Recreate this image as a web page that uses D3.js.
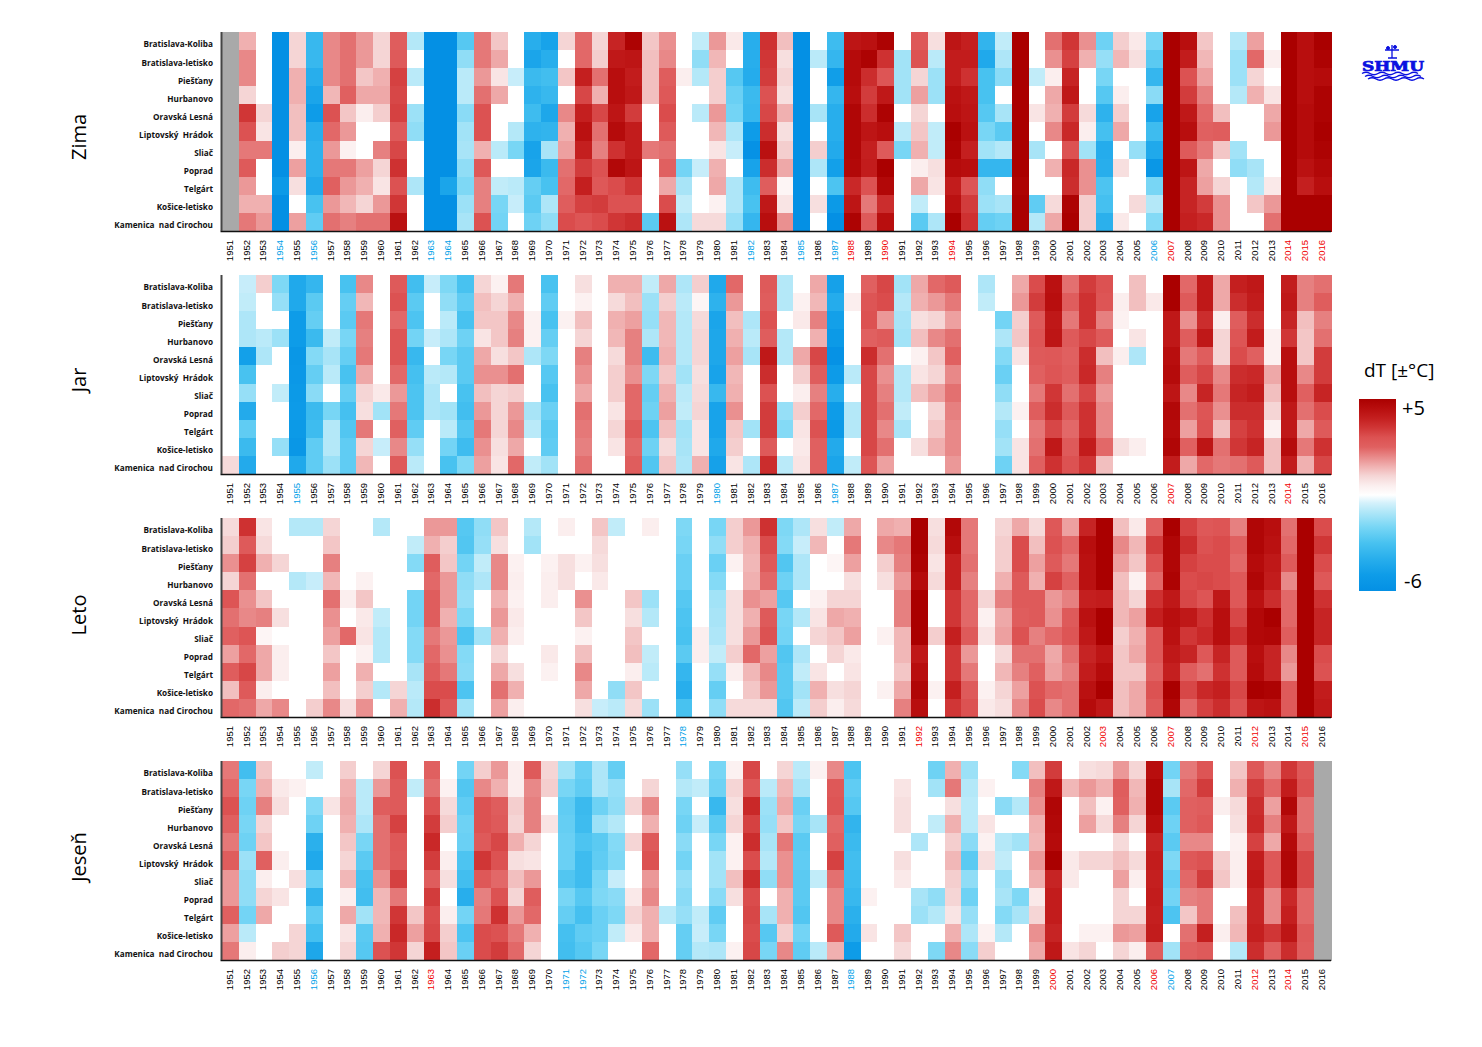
<!DOCTYPE html>
<html><head><meta charset="utf-8">
<script src="https://cdn.jsdelivr.net/npm/d3@7"></script>
<style>html,body{margin:0;padding:0;background:#fff}svg{display:block}text{white-space:pre}</style>
</head><body><div id="chart"></div>
<script>
const years = d3.range(1951, 2017);
const stations = ["Bratislava-Koliba","Bratislava-letisko","Piešťany","Hurbanovo","Oravská Lesná","Liptovský  Hrádok","Sliač","Poprad","Telgárt","Košice-letisko","Kamenica  nad Cirochou"];
const N = null;
// each line = one year (1951..2016), 11 stations, dT in °C
const zima = [
[N,N,N,N,N,N,N,N,N,N,N],
[1.5,2,2,1,3.5,3,2.2,2.7,1.8,1.5,2.2],
[0,0,0,0,1,.7,2.2,0,0,1.5,1.8],
[-6,-6,-6,-6,-6,-6,-6,-6,-5.2,-6,-6],
[1,1,1.5,1.5,1.3,1.3,.5,1.7,.8,0,1.7],
[-3.5,-3.5,-4,-4.5,-5,-4,-3.8,-3.8,-4.2,-3,-2.5],
[2,2,2,1.4,3,2.4,1.8,2.2,2.5,1.8,2.3],
[2.3,2.3,2.3,2.5,1.2,1.8,.4,2.2,1.8,1.4,2.1],
[1.8,1.8,1.2,1.6,.5,0,0,1.7,1.5,1,2.3],
[1,1,1.5,1.6,1.1,0,2.1,1,.7,1.8,2.3],
[2.6,2.7,3.3,3.2,3.3,2.7,3.2,3.6,3,3.5,4.4],
[-1,0,-.9,0,-1.4,-1.6,0,0,-1.1,0,0],
[-6,-6,-6,-6,-6,-6,-6,-6,-6,-6,-6],
[-6,-6,-6,-6,-6,-6,-6,-6,-4.5,-6,-6],
[-2.7,-1.6,-.9,-.9,-1.7,-1.3,-1.2,-1.6,-1.9,-1.4,-1.2],
[2.2,2.2,1.8,2.3,3,3,1.5,2.8,2.1,2.1,3],
[1.2,1.6,.7,1.6,0,0,-.9,0,-.8,-2,-2.1],
[0,0,-.7,0,0,-1,-2,0,-.9,-.7,0],
[-4,-4.5,-3.4,-3.8,-3.3,-3.8,-4.6,-4.5,-2.4,-2.6,-2.2],
[-4.6,-4,-3.2,-3.5,-4.4,-3.7,-1.2,-3.4,-3,-1.1,-1.6],
[1,0,1.2,0,2,1.5,1.7,2.3,2.4,2.6,3.1],
[2.4,2.4,4,3.2,4,4.4,4,3.4,4,3.3,2.9],
[1,1.1,2.3,1.5,3.2,2.3,2.1,3,2.8,3.4,3.1],
[3.9,4.2,4.5,4.5,4.3,4.6,3.6,4.7,3.1,3,3.5],
[4.9,4.3,4.1,4.2,3.4,4.1,4.1,4.3,3.5,3,3.7],
[1.2,1.3,1.3,1.3,0,0,2.2,0,0,0,-2.6],
[1.9,2,2.6,2.8,3.1,2.7,2.3,2.5,1.6,3.1,4.4],
[0,0,.5,0,0,0,0,-2.1,-1.2,-.8,-1.1],
[-.8,-1.6,-1,0,-.9,0,0,-.7,0,0,.9],
[1.8,1.4,1.1,1.1,1.8,1.4,.7,1.5,1.6,.4,.9],
[.6,0,-2.7,-2.3,-2.1,-1.1,-.7,0,-1.1,-1.1,-1.5],
[-4,-4,-4.1,-3.4,-3.5,-5,-5.8,-4.6,-3.3,-3,-3.6],
[3.6,3.5,3.4,3,3.2,3.7,4.4,3.7,2.6,4.2,4.5],
[1.3,.8,1,.8,1.5,.8,1.1,1.6,.3,.7,1.9],
[-6,-6,-6,-6,-6,-6,-6,-6,-6,-6,-6],
[0,-.9,0,0,-1.2,0,1.1,-1.1,0,.8,0],
[-3.3,-3.6,-4.9,-3.6,-4,-4,-4.2,-4.8,-2.9,-5.2,-6],
[4.3,4.6,4.6,4.5,4.8,4.8,4.8,4.7,3.8,4.3,4.9],
[4.4,4.9,3.7,3.4,3.7,4.3,4,4.1,3,2.2,2.7],
[4.9,3.6,2.9,4.2,4.9,4.5,2.7,5,4.7,3.7,4.5],
[0,-1.3,-1.3,-1.3,0,-.9,-2,0,0,0,0],
[2.8,3,1,1.7,1,1.2,1.5,.5,1.6,-.8,-2.6],
[.8,-.9,-1.4,-1.4,0,-.8,-.8,.8,.7,0,-1.1],
[4.3,4.1,4.1,4.4,4.5,5,4.9,4.6,4.1,4.4,5],
[4,4.1,3.6,4.2,4.3,4.4,4,4.5,2.9,3.4,3.6],
[-3.7,-4.3,-3,-3,-2.7,-2,-1.3,-3.6,-1.6,-1.4,-2.4],
[-.8,-1.1,-1.7,0,-1.2,-2.6,-1,-3.6,0,-1.2,-2.2],
[5,5,5,5,5,5,5,5,4.9,5,5],
[0,0,-.8,0,.7,0,-1.2,0,0,-2.5,-1],
[2.3,1.9,.5,1.6,1.5,2,0,1.5,0,.9,1.6],
[3.5,3.3,3.9,4.2,3.4,3.8,3,3.8,3.7,4.9,5],
[1.9,1.5,0,0,.9,.5,-1.3,1.9,1.9,1.1,1.1],
[-2.2,-1.5,-2,-2.7,-3.8,-3.1,-4.1,-4,-2.9,-3.1,-3.9],
[1.1,1.4,0,.5,1.1,1.6,0,.8,0,0,.6],
[.6,.8,0,0,0,0,-1.5,0,0,.9,0],
[-2,-2.6,-3.6,-1.7,-4.6,-3.3,-4.3,-5.4,-2,-1,-1.8],
[5,5,5,5,5,5,5,5,5,5,5],
[4.5,4.1,3,3.4,4.2,4.5,2.7,4.3,3.9,3.9,4],
[1.2,1.4,1.7,2.1,2.4,2.5,2.2,1.6,1.7,3.4,3.8],
[0,0,0,0,1.3,2.6,1.2,0,1,1.9,1.9],
[-1,-1.4,-1.4,-1,0,0,-1.3,-1.6,0,0,0],
[1.7,2.4,1,1.5,0,0,0,-1.2,-1,1.2,0],
[0,.5,0,.7,1.6,1.8,0,0,.6,1.8,2.3],
[5,5,5,5,5,5,5,5,5,5,5],
[4.5,4.5,4.5,4.5,4.6,4.6,4.6,4.4,4,5,5],
[5,4.9,4.6,4.9,4.9,5,4.9,4.7,4.5,5,5]];
const jar = [
[0,0,0,0,0,0,0,0,0,0,.9],
[-.7,-.8,-1.1,-1.1,-4.8,-3,-1.5,-4.2,-2.5,-3.4,-4.2],
[1.1,0,0,-.9,-1.1,0,0,0,0,0,0],
[-1.9,-1.5,0,-1.4,0,0,-.8,0,0,-1.5,0],
[-4.3,-4.3,-5,-5,-5.4,-5.3,-5.2,-5.1,-5.2,-5.4,-4.3],
[-3.6,-2.6,-2.4,-3.4,-1.8,-2.4,-1.7,-3.4,-3.3,-2.5,-2.5],
[0,0,0,-.8,-1.2,-.9,0,-2,-1,-1,-1.4],
[-3,-2.4,-2.6,-2,-2.4,-3,-2.4,-3.1,-2.8,-2.5,-2.5],
[2,1.4,2.2,2.1,2.2,1.6,1,.8,2.2,1,1.4],
[0,0,0,0,0,0,.6,-1.3,0,-.7,0],
[2.7,3,2.4,2.9,2.9,2.4,1.8,2.2,2.5,2,2.7],
[-3.2,-2.6,-2.9,-2.1,-3.5,-3.1,-2.9,-2.9,-2.5,-1.5,-.9],
[-.7,0,0,-.7,0,-.9,-1.1,-1.1,0,0,0],
[-1.9,-1.6,-.9,-1.1,-2,-1,0,-1.3,-.9,-2.1,-3],
[-3,-2.5,-3,-2.2,-2.6,-2.6,-3,-3.2,-2.8,-3.3,-1.9],
[1,1.3,1.2,.7,1.6,1.9,1.3,1.8,2.2,1.9,1.7],
[.4,1,1.2,1.2,.8,1.9,1,1,1,.8,.7],
[2.2,1.5,2,2.1,1.2,2.3,1.1,1.8,2,1.6,2.4],
[0,0,.4,.4,-1.1,0,0,-1.2,-.9,0,-.8],
[-3,-2.5,-3,-2.4,-1.9,-2.7,-3,-2.3,-2.6,-2.5,-1.3],
[0,0,.4,0,0,0,0,0,0,0,0],
[.8,.4,1.3,1,2.1,1.9,1.6,2.3,2.2,2.1,2.3],
[0,0,0,0,0,0,0,0,0,0,0],
[1.5,.9,1.5,1.4,.9,1.1,1.1,.7,1,.7,0],
[1.5,1.3,1.7,2.1,2.1,1.9,2.4,2.4,2.7,2.4,2.6],
[-.8,-1.4,-1.5,-1.1,-3.3,-1.9,-2.4,-2.2,-2.9,-2.2,-2.8],
[1.6,1.1,1.4,1.4,1.5,1.2,1.5,1.7,1.3,.9,1.2],
[-1.1,-.9,-1,-1,-1,-1.3,-.9,-.8,-1.3,-1.2,-1.1],
[1.1,.3,.9,1,1,.8,.9,1,.7,.7,1.5],
[-4.3,-3.8,-4.5,-4.4,-4.4,-4.6,-3.5,-4.6,-4.6,-4.3,-4.7],
[2.4,1.8,1.3,1.5,1.7,1.4,1.5,1.9,1.2,1.1,.7],
[0,0,-1.1,-.9,-1.2,0,0,0,-1.3,0,-1.1],
[2.7,2.6,3,2.6,4.2,3.7,3,3.4,3.4,2.7,3.7],
[-1,-1,0,-1,-1,0,0,-1.5,-1.8,0,-.9],
[0,.4,.6,0,1.6,1.1,.5,1.1,.7,.6,.7],
[1.6,1.4,2.1,1.5,3.2,2.6,2.1,2.4,3,2.5,2.5],
[-4.7,-4.1,-4.8,-5.2,-5.8,-5.1,-4,-5,-5.2,-4.2,-4.5],
[0,.5,0,0,0,-.9,0,-1,-1,0,-.8],
[2.5,2.9,3,2.5,3.7,3.2,3.2,3.2,3.2,3.2,2.9],
[3.2,3.1,1.8,2.7,2.3,1.9,2.1,2.3,2,2.3,1.7],
[-1.3,-1,-1.2,-1.3,0,-1,-1,-.8,-1.2,0,0],
[1.6,1.5,.8,1.3,.4,.7,1.3,0,0,.8,0],
[2.4,1.8,1,2,1.2,1,1.7,1,1.2,1.5,0],
[2.7,2.2,1.7,2.3,2.5,2,2.3,2.1,2,2,1.8],
[0,0,0,0,0,0,0,0,0,0,0],
[-1.1,-.8,0,0,0,0,0,0,0,0,0],
[0,0,-2.1,-1.1,-1.8,-2.3,-1.6,-1,-1.5,-1.3,-2.2],
[1.6,1.8,1.1,1.2,.7,0,0,.4,0,.7,.7],
[3.1,3.4,2.7,2.9,2.7,2.5,2.2,2.6,2.2,2.3,2.5],
[4.4,4.5,4.2,4.3,2.8,2.9,3.5,3.7,3.2,4.2,3.6],
[2.3,2.6,2.2,2.7,2.5,2.6,2.3,2.7,2.4,2.7,3],
[3.4,3.6,3.6,3.2,3.7,3.8,3.2,3.6,3.6,4.1,3.5],
[3,2.9,2.1,2.7,1.3,2.1,1.8,2,2,2.4,1.3],
[0,.5,.4,0,.5,0,0,0,0,.8,0],
[1.3,1.3,0,.7,-1.1,0,0,0,0,.5,0],
[0,.6,0,0,0,0,0,0,0,0,0],
[5,5,4.2,4.2,4.5,4.6,4.3,4.7,4.6,4.8,4.1],
[2.4,2.7,1.9,2.6,2.2,2.6,2,2.3,1.7,2.5,1.6],
[4.2,4.2,3.7,4.2,2.6,3.2,3.9,2.9,3,4.3,2.4],
[1.6,1.6,.5,1,1,2,2.2,1.9,1.3,2.3,2.2],
[4,3.7,2.6,2.9,3.1,3.7,3.9,3.7,3.3,3.5,2.3],
[4.2,4.1,3.7,4.1,2.5,3.8,4.1,3.7,3.6,3.9,2.7],
[0,0,0,.4,.4,1.6,1.3,1,.4,1.3,1.3],
[4.1,4.2,3.9,3.5,4.5,4.5,4.5,4.2,4.2,4.6,4.1],
[2.1,2.1,1.3,1.2,1.2,2,2.5,2.3,1.6,2.2,1.5],
[2.3,2.6,2.1,2.3,3.4,3.4,3.9,3.1,2.7,3.6,3.2]];
const leto = [
[.9,1.1,1.9,1,2.9,2.3,2.5,1.7,2.6,1.3,2.4],
[3.6,2.7,3.3,2.3,1.9,2,2.9,2.4,3.2,2.7,2.3],
[.7,.9,1.5,0,1.2,2.1,.3,1.6,1.6,.5,1.6],
[0,0,1,0,0,.8,0,.5,.5,0,2],
[-1,0,0,-1,0,0,0,0,0,0,0],
[-1,0,0,-.7,0,0,0,0,0,0,1.1],
[1,1.2,2.1,1.4,2.3,1.9,1.7,1.2,1.7,1.3,2],
[0,0,0,0,.5,0,2.4,0,0,0,.8],
[0,0,0,.4,1.2,.6,.7,.4,1.5,1.1,1.9],
[-1,0,0,0,0,-.8,-1,-1,0,-1,0],
[0,0,0,0,0,0,0,0,0,1,1.5],
[0,-.8,-1.8,0,-2.1,-2.1,-1.8,-1.8,-1.2,-.9,-1],
[1.8,1.5,2.6,2.4,2.6,2.6,2.2,2.4,2.6,3.1,3.7],
[1.8,1.1,1.2,1.8,1.8,1.5,1.8,1.9,2.2,3.1,2.8],
[-2.7,-2.8,-2.1,-1.6,-1.5,-1.9,-2.9,-1.8,-1.7,-2.9,-1.3],
[-1.6,-1.5,-.8,-1.1,0,0,-1.3,0,0,0,0],
[1.2,.8,2,2,1.5,1.8,1.5,1,1.6,2.3,1.7],
[0,0,.4,.5,.4,.6,.5,0,.8,1.5,.5],
[-1,-1.3,0,0,0,0,0,0,0,0,0],
[0,0,.4,.5,.5,0,0,.6,.4,0,0],
[.5,0,.8,.8,0,0,0,0,0,0,0],
[0,0,.4,0,1.9,1.2,.4,1.3,2,1.6,.8],
[1.2,.9,.8,.6,0,0,0,0,0,0,-.7],
[-.8,0,0,0,0,0,0,0,0,-1.6,-.9],
[0,0,0,0,1.2,.8,1.2,1.3,.5,1.2,.9],
[.5,0,0,0,-1.4,-1,0,-.8,-.9,0,-1.4],
[0,0,0,0,0,0,0,0,0,0,0],
[-1.9,-2,-2.3,-2.3,-2.7,-2.9,-3,-2.6,-3.6,-4,-3],
[0,0,0,0,0,0,.5,.5,0,0,0],
[-2,-1.6,-2.3,-1.8,-1.3,-1.2,-1.1,-.8,-1.5,-2.4,-1.6],
[1.1,1.1,.4,0,.8,.8,.8,1.1,.5,0,.9],
[1.8,1.5,1.4,1.5,1.9,1.5,1.8,2.4,1.4,1.2,.9],
[3.6,3.1,2.7,2.4,1.7,2.7,3,1.7,2,1.8,.9],
[-1.9,-1.8,-2.8,-2.2,-2.7,-2,-2.1,-2.8,-2.6,-2.6,-2.8],
[-1.1,-.7,-1.1,-1.1,0,-1,0,-1.1,-.8,-1.3,-.9],
[.8,1.4,0,0,.4,.7,1,0,.7,1.5,1.1],
[-.8,0,.3,0,1,1.6,1.2,1,0,.8,.5],
[1.6,2.2,1.7,.8,1,1.5,1.7,.6,.7,1,.9],
[0,0,0,0,0,0,0,0,0,0,0],
[1.6,2,1.1,.8,0,0,.4,0,0,.4,0],
[1.5,2.2,2.1,1.8,2.1,2.1,1.4,1.4,1.2,1.6,2.1],
[5,5,4.9,4.6,5,5,5,4.2,4.5,4.8,4.5],
[.8,.9,.7,.9,0,0,1.1,0,0,.4,0],
[4.7,4.5,4,4,3.5,3.5,4,3.5,3.5,4,3.5],
[2.2,2.2,2.3,2.1,2.4,2.4,2.7,1.8,2.2,2.7,3],
[0,0,0,0,1,.4,.7,0,0,.4,.6],
[1,1.1,1.1,1.5,2.1,1.6,1.7,.9,1.4,1,.8],
[1.6,3.1,3.1,2.7,2.7,2.6,3,2.3,2.1,1.7,2],
[.9,1.3,1.7,1.5,2.7,2.7,2.1,2.3,2.5,3,3.1],
[2.8,3,2.7,3.3,1.8,1.9,2.4,1.6,1.7,2.4,2],
[1.7,2.4,2.2,2.5,2.1,2.7,2.9,2.3,2.1,2.3,2.3],
[3.9,4.5,4.4,4.4,4,4.4,4.2,3.9,4.1,4.4,4.6],
[5,5,5,5,4.1,5,5,4.3,4.6,5,4.2],
[1.3,2,1.7,1.3,1.4,1.4,1.1,1.2,1.2,1.3,1.3],
[.6,1.4,1.2,.4,1,1.7,1.5,1.6,1.2,1.6,1.6],
[2.5,3.4,3,2.4,3.6,4,2.8,2.8,2.5,3,2.7],
[5,4.8,4.8,4.9,4.2,4.5,4.4,4.2,4,5,4.8],
[3.3,3.7,3.3,3.1,3.2,4.2,3.5,3.9,2.6,3.2,2.4],
[2.8,3,3.1,3.2,2.9,3.6,3.8,2.8,2.3,3.8,3.3],
[2.9,3.1,3.1,3.1,4.2,4.5,4.5,3.9,3.6,4,3.7],
[2.1,2.5,2.4,2.8,2.8,3.2,3.6,2.7,2.7,3.2,3],
[4.8,4.8,4.6,4.8,4.4,4.7,4.7,4.5,4.6,5,4.3],
[4.5,4.4,4.2,4.1,3.7,5,4.8,3.9,3.9,4.9,4.4],
[2.3,2.4,2.7,2,2.4,2.4,2.6,2,1.8,2.7,2.7],
[5,5,5,5,5,5,5,5,5,5,5],
[3.1,3.5,3.1,2.8,3.6,3.9,3.9,3.1,3,4.1,4.2]];
const jesen = [
[2.2,2.4,3,2.5,2.2,2.6,1.8,1.8,2.5,1.7,2.2],
[-3.2,-2,-2.2,-2,-2.2,-1.4,-1.6,-1.6,-2.1,-.9,.5],
[1.2,1.5,2.1,1,1.2,2.5,.5,1,1.6,0,0],
[0,.6,.8,0,0,.5,0,.7,0,0,1.1],
[0,.4,0,0,0,0,.8,0,0,1,1],
[-.8,0,-1.8,-2.2,-3.9,-4.3,-2.3,-3.7,-2.5,-3.1,-4.4],
[0,0,.7,0,0,0,0,0,0,0,0],
[1.1,1.5,1.6,1.5,1.2,1,1.4,.5,1.6,.7,1],
[0,-.9,-.9,-1.1,-2,-2.6,-3,-3.2,-1.3,-2.6,-2.7],
[1,1.8,2.6,2.3,2.3,2.3,1.9,1.4,1.4,1.5,3],
[3,2.7,2.7,3.3,2.8,2.7,3.3,2.2,3.5,3.8,3.5],
[0,-.8,0,0,0,0,0,0,1.2,1.7,1],
[2.5,2.3,3,3.4,3.8,3.4,2.6,3.4,3.1,3.2,4],
[0,.4,.9,1.1,0,.5,.8,0,.5,1.1,1.2],
[-2.1,-2.8,-2.5,-2.2,-2.3,-2.9,-3.2,-4,-2.1,-2.9,-2.3],
[1.1,2,3,3,2.7,3.5,2.8,2.1,2.2,3.1,3.1],
[1.8,1.5,2.6,2.7,3.2,3,2.4,3,3.6,3,3.4],
[.5,.5,1.1,1,1.5,.8,1.3,1,1.8,2.2,2.4],
[2.7,2,2.1,2.1,1,.7,1.8,2.6,2.4,1.5,1],
[1,1.1,0,.7,0,0,0,0,0,0,0],
[-1.3,-2,-2.5,-2.4,-2.3,-2.3,-2.8,-2,-2.4,-3.1,-3.2],
[-2.3,-2.5,-3.4,-3.3,-2.9,-3.3,-3.3,-2.7,-3.1,-2.5,-2.7],
[-1.1,-1.1,-2.2,-1.4,-2.6,-2.5,-2,-1.9,-2.3,-2.3,-2],
[-2.4,-1.5,-1.6,-1,-1.8,-1.9,-.7,-1.7,-1.9,-.8,0],
[0,0,1,0,1,0,0,.6,1,.6,0],
[0,1,2,1.5,2.7,3,1.8,2,1.5,1.5,2.4],
[0,0,0,0,0,0,0,0,-.9,0,0],
[-1.5,-1,-2,-2.2,-1.7,-2.1,-1.5,-1.7,-1.5,-2.4,-2.4],
[0,-.8,0,-.7,0,0,0,0,-.8,-.7,-1],
[-2,-2.2,-3.5,-2.6,-2,-1.3,-1.3,-1.7,-2.5,-2,-1.1],
[.4,1,.8,1,.4,.4,1.3,.8,0,0,.4],
[3.2,2.8,3.8,3.3,3.7,3.1,3.7,3.1,3.2,3.1,3.2],
[0,-.9,-1.4,-1.5,-1.2,-1,-1.6,0,-1.2,-2.7,-2],
[1,1.4,1.6,1.2,2.2,1.9,1.9,1.5,1.5,1.1,2],
[-.9,-1.2,-2.3,-2,-2.6,-2.5,-2.6,-2.6,-2.8,-2.1,-2.5],
[.4,0,0,-1.2,0,0,-.8,0,0,0,-.9],
[2,2.8,2.9,2.4,2.5,3.3,2.3,2,2,2.7,1.5],
[-2.9,-2.5,-2.7,-3.7,-3.4,-3.2,-3.3,-3.5,-3.9,-4.2,-5],
[0,0,0,0,0,0,0,.4,0,.7,0],
[0,0,0,0,0,0,0,0,0,0,0],
[0,.7,.8,.8,0,.8,.6,0,0,1.2,.9],
[0,0,0,0,-1.1,0,0,-1.2,-1.4,0,0],
[-2.2,-1.3,0,-.8,0,0,0,-1.6,-1,0,-1.9],
[1.5,2.2,.8,1.5,1.1,1.4,1.1,1,.7,1.5,2],
[-1.4,-1,-.9,-.9,-1.7,-2.6,-1.6,-2.2,-1.5,-1.1,-1.7],
[0,.4,0,.7,.4,.8,0,0,0,.4,1.1],
[0,0,-1.7,0,-1,-.8,-1.4,-1.2,-1.8,-1,0],
[-1.8,0,-1,0,-1.3,0,0,-1.9,-1.2,0,0],
[1.3,2.1,1.9,1.5,1.4,1.8,1.5,.6,1,1.9,1.6],
[3.4,4.2,4.8,4.7,4.6,5,3.9,4.1,4.1,3.9,4.2],
[0,1.4,0,0,0,.6,.6,0,0,0,.7],
[.8,1.8,1.3,1.7,0,1,0,0,0,.4,1],
[.9,1.5,.4,.9,0,1,0,0,0,.4,0],
[1.8,2.6,2.5,2.1,.9,1.3,1.7,1,1,1.8,1],
[1,1.4,1.5,1,0,.9,.5,0,1,1.7,.5],
[4.5,4.8,4.8,4.5,3.9,4.1,4,4.1,4,4.1,2.6],
[-2.1,-1.2,-2.6,-2.2,-2.6,-1.9,-2.4,-2.1,-2.9,0,-1.3],
[2.2,2.4,2.5,2.5,2,2.8,2.4,2.1,1.2,2.3,2.5],
[2.9,3.4,2.6,2.8,2,3,3.4,2.2,2.2,4,2.7],
[0,0,.5,0,0,1.1,1.2,0,0,.5,0],
[1.2,1.5,.9,.8,.4,.5,.5,0,1.3,1.4,-1],
[2.8,3.4,3.7,3.8,3.3,4.1,4.2,3.9,3.9,4,3.7],
[2,2.4,1.7,2.1,1.6,2.8,2.8,2,2,3.5,2.5],
[3.5,4.1,4.7,4.2,4.6,4.8,4.7,3.8,4,4.3,3.7],
[2.8,3,2.3,2.3,2.5,3.2,3.2,2.4,2.4,2.7,2.6],
[N,N,N,N,N,N,N,N,N,N,N]];
const seasonNames = ["Zima","Jar","Leto","Jeseň"];
const seasonValues = [zima, jar, leto, jesen];
const coldYears = [[1954,1956,1963,1964,1982,1985,1987,2006],[1955,1980,1987],[1978],[1956,1971,1972,1988,2007]];
const warmYears = [[1988,1990,1994,2007,2014,2015,2016],[2007,2014],[1992,2003,2007,2012,2015],[1963,2000,2006,2012,2014]];
const colorDomain = [-6,-5,-4,-3,-2,-1,-.5,0,.5,1,1.5,2,2.5,3,3.5,4,4.5,5];
const colorRange = ["#0490e4","#0e9ce8","#28aeec","#48c2f0","#78d6f5","#b4e8f8","#d4f1fb","#ffffff","#fbeeee","#f5d5d5","#f0b0b0","#e88888","#e06060","#dc5252","#d03636","#c41f1f","#b80e0e","#aa0000"];

const W = 1482, H = 1047;
const panelTops = [32, 275, 518, 761];
const seasonLabelY = [137, 380, 615, 857];
const panelH = 199, left = 222, right = 1331;
const color = d3.scaleLinear().domain(colorDomain).range(colorRange).clamp(true);
const x = d3.scaleBand().domain(years).range([left, right]);
const svg = d3.select("#chart").append("svg").attr("width", W).attr("height", H).style("background", "#fff");

seasonNames.forEach((name, s) => {
  const top = panelTops[s];
  const y = d3.scaleBand().domain(stations).range([top, top + panelH]);
  const g = svg.append("g");
  const cells = [];
  seasonValues[s].forEach((col, i) => col.forEach((v, j) => cells.push({year: years[i], st: stations[j], v})));
  g.selectAll("rect").data(cells).join("rect")
    .attr("x", d => x(d.year)).attr("y", d => y(d.st))
    .attr("width", x.bandwidth() + .5).attr("height", y.bandwidth() + .5)
    .attr("shape-rendering", "crispEdges")
    .attr("fill", d => d.v === null ? "#a9a9a9" : color(d.v));
  const ax = g.append("g").attr("transform", `translate(0,${top + panelH})`).call(d3.axisBottom(x).tickSize(0).tickPadding(0));
  ax.select(".domain").attr("stroke", "#111").attr("stroke-width", 1.5).attr("d", `M${left - 1.5},0.5H${right}`);
  ax.selectAll("text")
    .attr("transform", "translate(-1,0) rotate(-90)")
    .attr("text-anchor", "end").attr("x", -9).attr("y", 0).attr("dy", "0.35em")
    .style("font", "9.5px 'Liberation Sans'")
    .attr("fill", d => coldYears[s].includes(d) ? "#009fe8" : warmYears[s].includes(d) ? "#f00000" : "#000");
  const ay = g.append("g").attr("transform", `translate(${left},0)`).call(d3.axisLeft(y).tickSize(0).tickPadding(9));
  ay.select(".domain").attr("stroke", "#444").attr("stroke-width", 2).attr("d", `M-0.5,${top}V${top + panelH}`);
  ay.selectAll("text").attr("dy", "0.78em").style("font", "bold 8.2px 'Open Sans'").attr("fill", "#111");
  svg.append("text").attr("transform", `translate(86,${seasonLabelY[s]}) rotate(-90)`)
    .attr("text-anchor", "middle").style("font", "20px 'Open Sans'").attr("fill", "#000").text(name);
});

// legend
const legendY = d3.scaleLinear().domain([5, 0, -6]).range([399, 495, 591]);
const defs = svg.append("defs");
const grad = defs.append("linearGradient").attr("id", "legendGrad").attr("x1", 0).attr("x2", 0).attr("y1", 0).attr("y2", 1);
colorDomain.slice().reverse().forEach(v => grad.append("stop").attr("offset", (legendY(v) - 399) / 192).attr("stop-color", color(v)));
svg.append("rect").attr("x", 1359).attr("y", 399).attr("width", 37).attr("height", 192).attr("fill", "url(#legendGrad)");
svg.append("text").attr("x", 1364).attr("y", 377).style("font", "19px 'Open Sans'").attr("fill", "#000").text("dT [±°C]");
svg.append("text").attr("x", 1402).attr("y", 415).style("font", "20px 'Open Sans'").attr("fill", "#000").text("+5");
svg.append("text").attr("x", 1404).attr("y", 588).style("font", "20px 'Open Sans'").attr("fill", "#000").text("-6");

// logo
const logo = svg.append("g").attr("fill", "none").attr("stroke", "#0a10e0");
logo.append("text").attr("x", 1362).attr("y", 71).attr("textLength", 62).attr("lengthAdjust", "spacingAndGlyphs")
  .attr("stroke-width", .7).attr("fill", "#0a10e0").style("font", "bold 13px 'DejaVu Serif'").text("SHMU");
[73.5, 76.5, 79].forEach((yy, i) => logo.append("path").attr("stroke-width", 1.4)
  .attr("d", `M${1362 + i * 3},${yy}q4,-2.5 8,0t8,0t8,0t8,0t8,0t8,0t8,0`));
logo.append("path").attr("stroke-width", 1.3).attr("d", "M1392,45V58M1385,50H1399M1388,58H1397");
logo.append("circle").attr("cx", 1388).attr("cy", 48).attr("r", 1.5).attr("fill", "#0a10e0");
logo.append("circle").attr("cx", 1395).attr("cy", 47).attr("r", 1.5).attr("fill", "#0a10e0");
</script></body></html>
